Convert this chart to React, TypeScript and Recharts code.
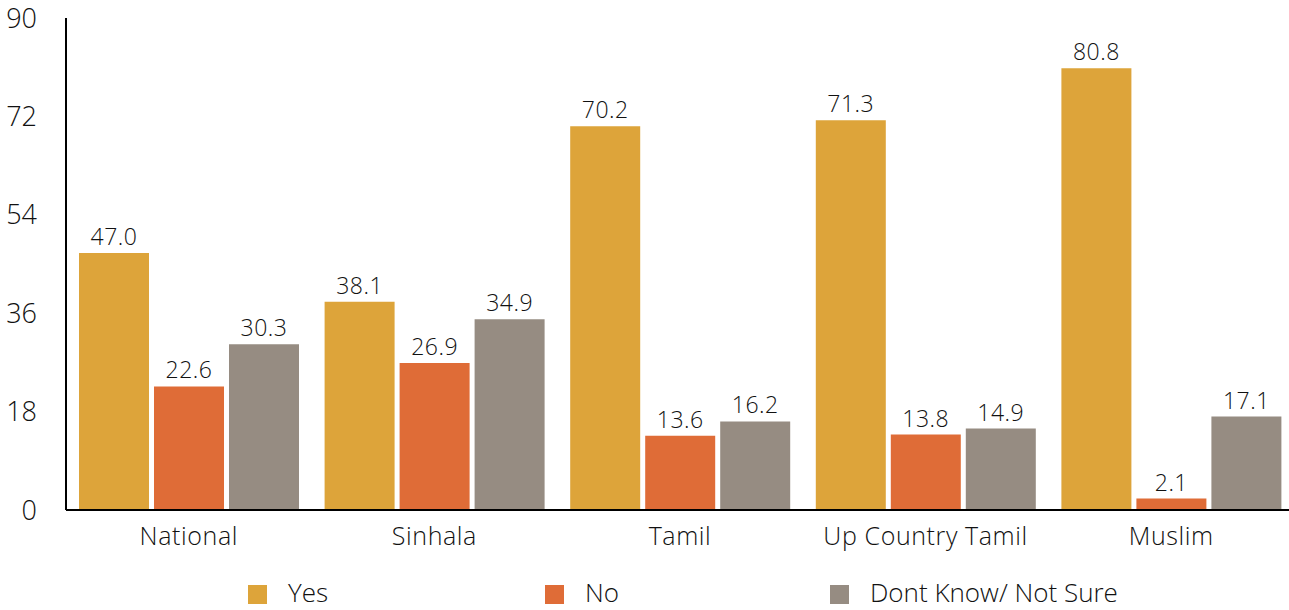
import React from "react";
import { BarChart, Bar, XAxis, YAxis, Legend, LabelList } from "recharts";

const categories = ["National", "Sinhala", "Tamil", "Up Country Tamil", "Muslim"];
const yesValues = [47.0, 38.1, 70.2, 71.3, 80.8];
const noValues = [22.6, 26.9, 13.6, 13.8, 2.1];
const dontKnowValues = [30.3, 34.9, 16.2, 14.9, 17.1];
const yTicks = [0, 18, 36, 54, 72, 90];

const series = [
  { key: "yes", name: "Yes", color: "#dda43a", itemWidth: 297 },
  { key: "no", name: "No", color: "#df6c37", itemWidth: 285 },
  { key: "dk", name: "Dont Know/ Not Sure", color: "#968c82", itemWidth: 300 },
];

const FONT = '"Open Sans", "Liberation Sans", Arial, sans-serif';

const data = categories.map((c, i) => ({
  name: c,
  yes: yesValues[i],
  no: noValues[i],
  dk: dontKnowValues[i],
}));

const LegendContent = () => (
  <div
    style={{
      height: 50,
      paddingTop: 18,
      paddingLeft: 248,
      boxSizing: "border-box",
      display: "flex",
      fontFamily: FONT,
      fontWeight: 300,
      fontSize: 26,
      color: "#111",
    }}
  >
    {series.map((s) => (
      <div
        key={s.key}
        style={{ display: "flex", alignItems: "center", height: 28, width: s.itemWidth }}
      >
        <span style={{ width: 19, height: 19, background: s.color, marginRight: 21, marginTop: 4 }} />
        <span style={{ lineHeight: "28px", whiteSpace: "nowrap" }}>{s.name}</span>
      </div>
    ))}
  </div>
);

export default function App() {
  return (
    <div
      style={{
        position: "absolute",
        left: 0,
        top: 0,
        width: 1289,
        height: 610,
        overflow: "hidden",
        background: "#fff",
      }}
    >
      <BarChart
        width={1294}
        height={610}
        data={data}
        margin={{ top: 18, right: 0, left: 0, bottom: 0 }}
        barCategoryGap={13}
        barGap={5}
      >
        <XAxis
          dataKey="name"
          axisLine={{ stroke: "#000", strokeWidth: 2 }}
          tickLine={false}
          tickSize={15}
          tickMargin={2}
          height={50}
          interval={0}
          tick={{ fill: "#111", fontSize: 25, fontFamily: FONT, fontWeight: 300, letterSpacing: 0.6 }}
        />
        <YAxis
          domain={[0, 90]}
          ticks={yTicks}
          width={66}
          axisLine={{ stroke: "#000", strokeWidth: 2 }}
          tickLine={false}
          tickSize={27}
          tickMargin={2}
          tick={{ fill: "#111", fontSize: 27, fontFamily: FONT, fontWeight: 300 }}
        />
        <Legend verticalAlign="bottom" height={50} content={<LegendContent />} />
        {series.map((s) => (
          <Bar
            key={s.key}
            dataKey={s.key}
            name={s.name}
            fill={s.color}
            isAnimationActive={false}
          >
            <LabelList
              dataKey={s.key}
              position="top"
              offset={8}
              formatter={(v: number) => v.toFixed(1)}
              style={{ fill: "#111", fontSize: 23, fontFamily: FONT, fontWeight: 300, letterSpacing: 0.5 }}
            />
          </Bar>
        ))}
      </BarChart>
    </div>
  );
}
